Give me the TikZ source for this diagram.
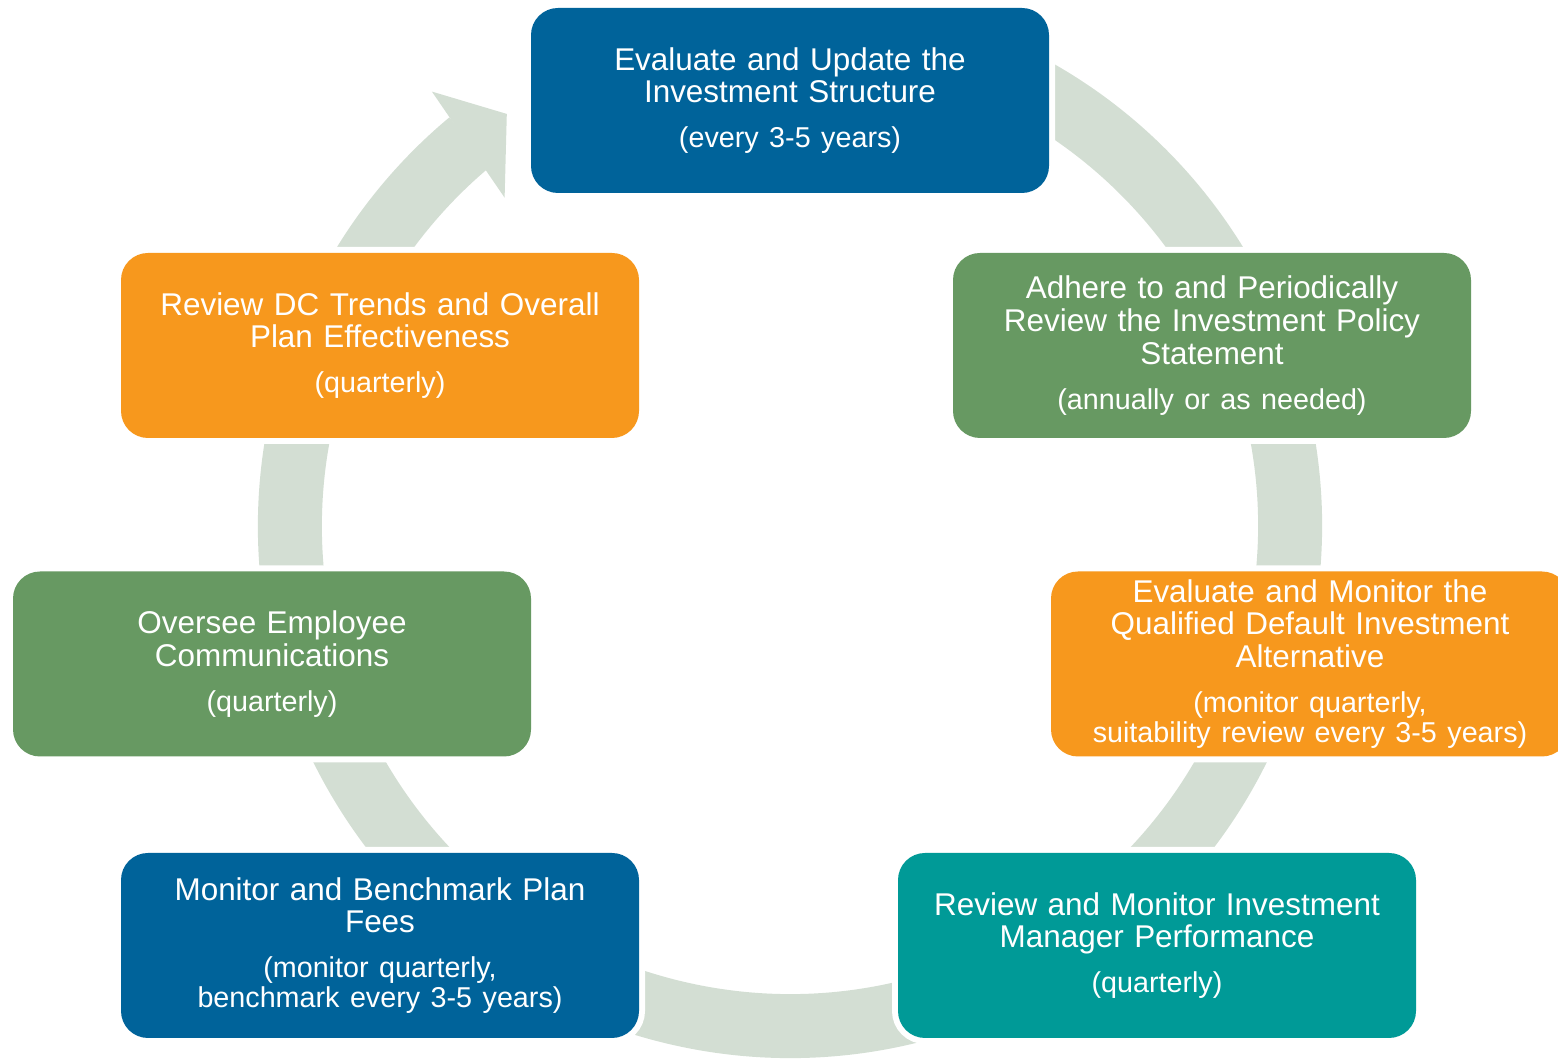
\documentclass[tikz,border=0pt]{standalone}
\usepackage{fontspec}
\setmainfont{Liberation Sans}

\definecolor{stageblue}{RGB}{0,99,154}
\definecolor{stagegreen}{RGB}{103,153,98}
\definecolor{stageorange}{RGB}{247,152,29}
\definecolor{stageteal}{RGB}{0,154,151}
\definecolor{ringgray}{RGB}{211,222,211}

\newcommand{\subfont}{\fontsize{8.17}{8.5}\selectfont}
\newcommand{\freq}[1]{\par\vspace{4.3pt}{\subfont #1\par}}

\begin{document}
\begin{tikzpicture}
        [stage/.style={shape=rectangle,rounded corners=0.27cm,fill=#1,
        text=white,minimum width=5.18cm,minimum height=1.85cm,
        text width=5.1cm,inner sep=0pt,align=center,
        font=\fontsize{8.95}{9.3}\selectfont,
        preaction={draw=white,line width=0.12cm}},
        ring/.style={draw=ringgray,line width=0.64cm}]
        \useasboundingbox (0,0) rectangle (15.58,10.60);
        \coordinate (c) at (7.90,5.34);
        %% ring
        \begin{scope}[shift={(c)}]
          \draw[ring] (75:5) arc[start angle=75,end angle=-230.2,radius=5];
          \fill[ringgray] (129.5:5.63) -- (124.5:5) -- (131:4.35) -- cycle;
        \end{scope}
        %% stages
        \node[stage=stageblue] (evaluate) at (7.90,9.595)
          {Evaluate and Update the\\ Investment Structure\freq{(every 3-5 years)}};
        \node[stage=stagegreen] (policy) at (12.12,7.145)
          {Adhere to and Periodically\\ Review the Investment Policy\\ Statement\freq{(annually or as needed)}};
        \node[stage=stageorange] (qdia) at (13.10,3.96)
          {Evaluate and Monitor the\\ Qualified Default Investment\\ Alternative\freq{(monitor quarterly,\\ suitability review every 3-5 years)}};
        \node[stage=stageteal] (manager) at (11.57,1.145)
          {Review and Monitor Investment\\ Manager Performance\freq{(quarterly)}};
        \node[stage=stageblue] (fees) at (3.80,1.145)
          {Monitor and Benchmark Plan\\ Fees\freq{(monitor quarterly,\\ benchmark every 3-5 years)}};
        \node[stage=stagegreen] (comms) at (2.72,3.96)
          {Oversee Employee\\ Communications\freq{(quarterly)}};
        \node[stage=stageorange] (trends) at (3.80,7.145)
          {Review DC Trends and Overall\\ Plan Effectiveness\freq{(quarterly)}};
\end{tikzpicture}
\end{document}
